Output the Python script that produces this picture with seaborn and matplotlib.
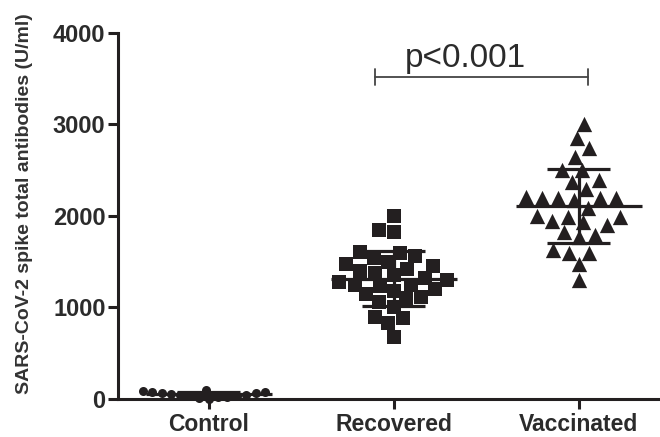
import matplotlib
matplotlib.use("Agg")
import numpy as np
import pandas as pd
import seaborn as sns
import matplotlib.pyplot as plt

categories = ["Control", "Recovered", "Vaccinated"]
control = [5, 15, 25, 35, 45, 55, 65, 75, 85, 100, 20, 40, 60, 80, 30]
recovered = [2000, 1850, 1820, 1600, 1610, 1560, 1540, 1500, 1480, 1450, 1420, 1400, 1380,
             1350, 1320, 1300, 1280, 1250, 1250, 1230, 1200, 1180, 1150, 1120, 1100, 1060,
             1010, 900, 880, 830, 680]
vaccinated = [3000, 2850, 2740, 2650, 2500, 2500, 2390, 2370, 2290, 2200, 2200, 2210, 2200,
              2180, 2200, 2090, 2000, 1990, 1990, 1950, 1900, 1930, 1830, 1790, 1770, 1600,
              1600, 1630, 1470, 1300]
y_ticks = [0, 1000, 2000, 3000, 4000]
y_label = "SARS-CoV-2 spike total antibodies (U/ml)"
p_text = "p<0.001"
p_bracket_x = [0.9, 2.05]
p_bracket_y = 3520

ink = "#231f20"

sns.set_style("ticks")
plt.rcParams["font.family"] = ["Liberation Sans", "DejaVu Sans"]

df = pd.DataFrame({
    "group": ["Control"] * len(control) + ["Recovered"] * len(recovered) + ["Vaccinated"] * len(vaccinated),
    "value": control + recovered + vaccinated,
})

fig = plt.figure(figsize=(6.6, 4.37), dpi=100)
ax = fig.add_axes([0.1788, 0.087, 0.8212, 0.8375])

markers = {"Control": "o", "Recovered": "s", "Vaccinated": "^"}
sizes = {"Control": 6.5, "Recovered": 10.5, "Vaccinated": 11}
for g in categories:
    sns.swarmplot(data=df[df.group == g], x="group", y="value", order=categories,
                  marker=markers[g], size=sizes[g], color=ink, linewidth=0, ax=ax,
                  clip_on=False, zorder=3)

for i, g in enumerate(categories):
    vals = np.array(df.loc[df.group == g, "value"], dtype=float)
    m, sd = vals.mean(), vals.std(ddof=1)
    ax.hlines(m, i - 0.34, i + 0.34, color=ink, lw=2.3, zorder=4, clip_on=False)
    ax.hlines([m - sd, m + sd], i - 0.17, i + 0.17, color=ink, lw=2.3, zorder=4, clip_on=False)
    ax.vlines(i, m - sd, m + sd, color=ink, lw=2.3, zorder=4, clip_on=False)

# significance bracket
ax.plot(p_bracket_x, [p_bracket_y, p_bracket_y], color="#444444", lw=1.3)
for xb in p_bracket_x:
    ax.plot([xb, xb], [p_bracket_y - 90, p_bracket_y + 90], color="#444444", lw=1.3)
ax.text(1.39, 3630, p_text, ha="center", va="baseline", fontsize=24, color="#2b2b2b")

ax.set_xlim(-0.49, 2.44)
ax.set_ylim(0, 4000)
ax.set_yticks(y_ticks)
ax.set_yticklabels([str(t) for t in y_ticks])
ax.set_xlabel("")
ax.set_ylabel(y_label, fontsize=14, fontweight="bold", color="#333333")
ax.yaxis.set_label_coords(-0.157, 0.533)

for s in ["top", "right"]:
    ax.spines[s].set_visible(False)
for s in ["left", "bottom"]:
    ax.spines[s].set_linewidth(2.2)
    ax.spines[s].set_color(ink)
ax.tick_params(axis="both", length=7, width=2.2, color=ink, labelsize=17, labelcolor="#2b2b2b")
for lab in ax.get_xticklabels() + ax.get_yticklabels():
    lab.set_fontweight("bold")
ax.tick_params(axis="x", pad=3, labelsize=16.5)
ax.tick_params(axis="y", pad=2)

fig.savefig("out.png", dpi=100)
